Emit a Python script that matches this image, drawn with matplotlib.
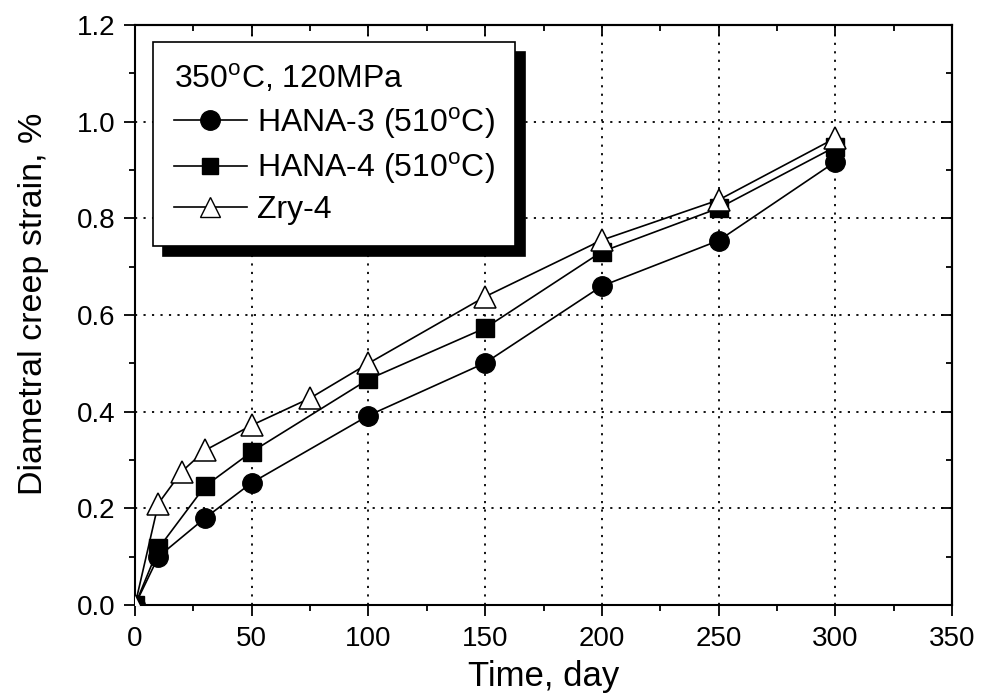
import matplotlib
matplotlib.use("Agg")
import matplotlib.pyplot as plt
from matplotlib.ticker import MultipleLocator
from matplotlib.lines import Line2D

plt.rcParams['font.family'] = ['Liberation Sans', 'DejaVu Sans']
plt.rcParams['mathtext.fontset'] = 'custom'
plt.rcParams['mathtext.rm'] = 'Liberation Sans'

# ---- data ----
days_hana = [0, 10, 30, 50, 100, 150, 200, 250, 300]
hana3 = [0, 0.10, 0.18, 0.253, 0.392, 0.501, 0.66, 0.754, 0.917]
hana4 = [0, 0.117, 0.246, 0.317, 0.467, 0.573, 0.731, 0.821, 0.948]
days_zry = [0, 10, 20, 30, 50, 75, 100, 150, 200, 250, 300]
zry4 = [0, 0.21, 0.276, 0.32, 0.372, 0.428, 0.50, 0.638, 0.755, 0.838, 0.966]

labels = ['HANA-3 (510$^{\\rm o}$C)', 'HANA-4 (510$^{\\rm o}$C)', 'Zry-4']
legend_title = '350$^{\\rm o}$C, 120MPa'
xticks = [0, 50, 100, 150, 200, 250, 300, 350]
yticks = [0.0, 0.2, 0.4, 0.6, 0.8, 1.0, 1.2]

fig = plt.figure(figsize=(9.82, 6.98), dpi=100)
ax = fig.add_axes([0.1375, 0.1332, 0.832, 0.831])

lw = 1.2
ax.plot(days_hana, hana3, '-', color='black', lw=lw, marker='o', ms=14,
        mfc='black', mec='black', zorder=3)
ax.plot(days_hana, hana4, '-', color='black', lw=lw, marker='s', ms=12.5,
        mfc='black', mec='black', zorder=3)
ax.plot(days_zry, zry4, '-', color='black', lw=lw, marker='^', ms=16,
        mfc='white', mec='black', mew=1.1, zorder=3)

ax.set_xlim(0, 350)
ax.set_ylim(0, 1.2)
ax.set_xticks(xticks)
ax.set_yticks(yticks)
ax.set_xticklabels([str(v) for v in xticks])
ax.set_yticklabels([f'{v:.1f}' for v in yticks])
ax.xaxis.set_minor_locator(MultipleLocator(25))
ax.yaxis.set_minor_locator(MultipleLocator(0.1))

for sp in ax.spines.values():
    sp.set_linewidth(1.5)

ax.tick_params(which='major', direction='out', length=8, width=1.3,
               labelsize=20)
ax.tick_params(which='minor', direction='out', length=4.5, width=1.3)
ax.tick_params(axis='x', which='major', pad=7)
ax.tick_params(axis='y', which='major', pad=6)

ax.grid(True, which='major', color='black', linestyle=(0, (1.2, 3.5)),
        linewidth=1.3)
ax.set_axisbelow(True)

secx = ax.secondary_xaxis('top')
secx.set_xticks(xticks)
secx.xaxis.set_minor_locator(MultipleLocator(25))
secx.tick_params(which='major', direction='in', length=8, width=1.3,
                 labeltop=False)
secx.tick_params(which='minor', direction='in', length=4.5, width=1.3)
secx.spines['top'].set_linewidth(1.5)

secy = ax.secondary_yaxis('right')
secy.set_yticks(yticks)
secy.yaxis.set_minor_locator(MultipleLocator(0.1))
secy.tick_params(which='major', direction='in', length=8, width=1.3,
                 labelright=False)
secy.tick_params(which='minor', direction='in', length=4.5, width=1.3)
secy.spines['right'].set_linewidth(1.5)

ax.set_xlabel('Time, day', fontsize=25, labelpad=6)
ax.set_ylabel('Diametral creep strain, %', fontsize=24.5)
ax.yaxis.set_label_coords(-0.105, 0.519)

handles = [
    Line2D([], [], color='black', lw=lw, marker='o', ms=14, mfc='black', mec='black'),
    Line2D([], [], color='black', lw=lw, marker='s', ms=12, mfc='black', mec='black'),
    Line2D([], [], color='black', lw=lw, marker='^', ms=14, mfc='white', mec='black'),
]
leg = ax.legend(handles, labels, title=legend_title, loc='upper left',
                bbox_to_anchor=(0.022, 0.971), borderaxespad=0,
                fontsize=23, title_fontsize=23,
                frameon=True, fancybox=False, edgecolor='black',
                framealpha=1, borderpad=0.65, handlelength=2.3,
                handletextpad=0.3, labelspacing=0.3, alignment='left',
                shadow={'ox': 7, 'oy': -7, 'facecolor': 'black',
                        'edgecolor': 'black', 'alpha': 1})
leg.get_frame().set_linewidth(1.2)
leg.set_zorder(5)

fig.savefig('out.png', dpi=100)
